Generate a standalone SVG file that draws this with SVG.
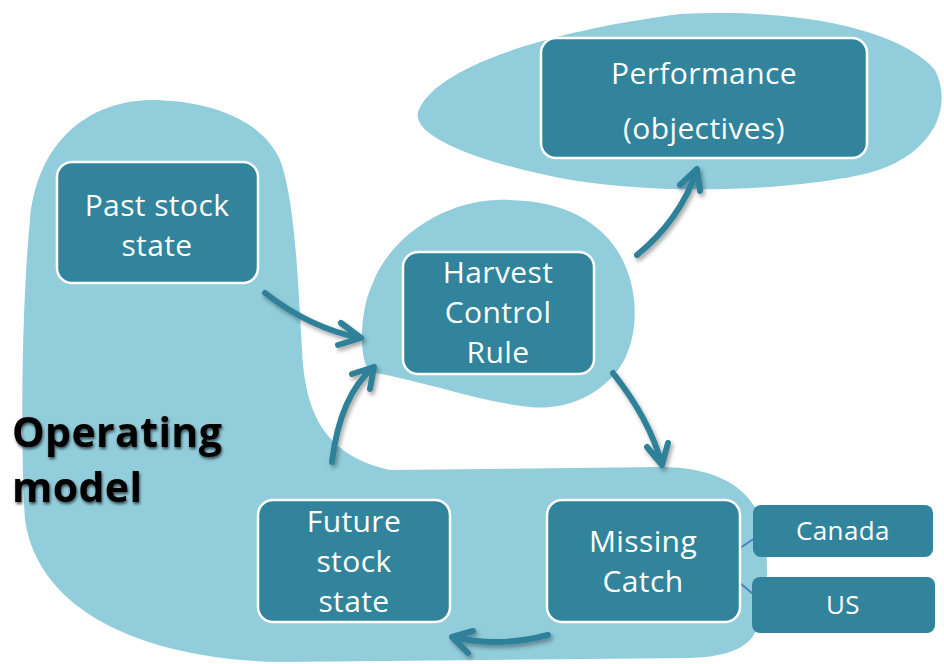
<svg xmlns="http://www.w3.org/2000/svg" width="944" height="664" viewBox="0 0 944 664">
  <style>
    .area { fill: #92cddc; }
    .box { fill: #31849b; stroke: #ffffff; stroke-width: 2.5; }
    .tag { fill: #31849b; }
    .lbl { fill: #ffffff; font-family: "Open Sans", "Liberation Sans", sans-serif; font-size: 30px; letter-spacing: 0.4px; text-anchor: middle; }
    .small { font-size: 26px; letter-spacing: 0.4px; }
    .title { fill: #000000; font-family: "Open Sans", "Liberation Sans", sans-serif; font-weight: bold; font-size: 41px; letter-spacing: 0.4px; }
    .arrow { fill: none; stroke: #2f8199; stroke-width: 6; stroke-linecap: round; stroke-linejoin: round; }
    .link { stroke: #4f7fbf; stroke-width: 2; }
  </style>
  <defs>
    <filter id="soft" x="-20%" y="-20%" width="140%" height="140%">
      <feGaussianBlur in="SourceAlpha" stdDeviation="2"/>
      <feOffset dx="2" dy="3" result="b"/>
      <feFlood flood-color="#000000" flood-opacity="0.35"/>
      <feComposite in2="b" operator="in"/>
      <feMerge><feMergeNode/><feMergeNode in="SourceGraphic"/></feMerge>
    </filter>
    <filter id="glow" x="-10%" y="-20%" width="120%" height="140%">
      <feGaussianBlur in="SourceAlpha" stdDeviation="1.8"/>
      <feOffset dx="1" dy="2" result="b"/>
      <feFlood flood-color="#000000" flood-opacity="0.65"/>
      <feComposite in2="b" operator="in"/>
      <feMerge><feMergeNode/><feMergeNode in="SourceGraphic"/></feMerge>
    </filter>
  </defs>

  <!-- background regions -->
  <g id="regions">
    <path class="area" d="M150,100 C200,100 260,115 280,160 C295,200 298,280 302,350 C305,410 322,455 390,470 L660,467 C720,467 755,490 764,530 C770,570 768,620 750,640 C735,655 710,657 690,658 L280,662 C160,660 40,620 25,520 C20,440 22,300 30,220 C36,150 80,102 150,100 Z"/>
    <path class="area" d="M497,200 C560,198 600,220 620,255 C640,290 640,340 618,370 C595,400 560,410 530,407 C480,402 420,380 370,372 C358,360 360,310 372,285 C388,240 440,202 497,200 Z"/>
    <path class="area" d="M418,112 C430,75 520,35 680,14 C800,8 900,30 935,70 C955,110 930,160 860,175 C780,192 650,195 560,178 C470,160 412,135 418,112 Z"/>
  </g>

  <g id="operating-model-label">
    <text class="title" x="12" y="447" filter="url(#glow)">Operating</text>
    <text class="title" x="12" y="502" filter="url(#glow)">model</text>
  </g>

  <!-- connectors -->
  <g id="connectors">
    <g filter="url(#soft)">
      <path class="arrow" d="M265,293 Q310,328 360,338 M341,323 L361,338 L338,345"/>
      <path class="arrow" d="M332,462 Q340,395 374,367 M352,374 L374,367 L370,389"/>
      <path class="arrow" d="M637,255 Q680,220 697,170 M680,185 L697,169 L700,191"/>
      <path class="arrow" d="M613,373 Q650,420 662,465 M647,447 L662,465 L668,443"/>
      <path class="arrow" d="M548,635 Q500,648 452,637 M473,631 L452,637 L468,653"/>
    </g>
    <line class="link" x1="740" y1="548" x2="755" y2="538"/>
    <line class="link" x1="740" y1="583" x2="753" y2="594"/>
  </g>

  <g id="past-stock-state">
    <rect class="box" x="57" y="162" width="201" height="121" rx="15"/>
    <text class="lbl" x="157" y="216">Past stock</text>
    <text class="lbl" x="157" y="256">state</text>
  </g>

  <g id="performance">
    <rect class="box" x="541" y="38" width="326" height="120" rx="15"/>
    <text class="lbl" x="704" y="84">Performance</text>
    <text class="lbl" x="704" y="139">(objectives)</text>
  </g>

  <g id="harvest-control-rule">
    <rect class="box" x="403" y="252" width="191" height="122" rx="15"/>
    <text class="lbl" x="498" y="283">Harvest</text>
    <text class="lbl" x="498" y="323">Control</text>
    <text class="lbl" x="498" y="363">Rule</text>
  </g>

  <g id="future-stock-state">
    <rect class="box" x="258" y="500" width="192" height="122" rx="15"/>
    <text class="lbl" x="354" y="532">Future</text>
    <text class="lbl" x="354" y="572">stock</text>
    <text class="lbl" x="354" y="612">state</text>
  </g>

  <g id="missing-catch">
    <rect class="box" x="547" y="500" width="193" height="122" rx="15"/>
    <text class="lbl" x="643" y="552">Missing</text>
    <text class="lbl" x="643" y="592">Catch</text>
  </g>

  <g id="canada">
    <rect class="tag" x="753" y="505" width="180" height="52" rx="8"/>
    <text class="lbl small" x="843" y="540">Canada</text>
  </g>

  <g id="us">
    <rect class="tag" x="752" y="577" width="183" height="56" rx="8"/>
    <text class="lbl small" x="843" y="614">US</text>
  </g>
</svg>
